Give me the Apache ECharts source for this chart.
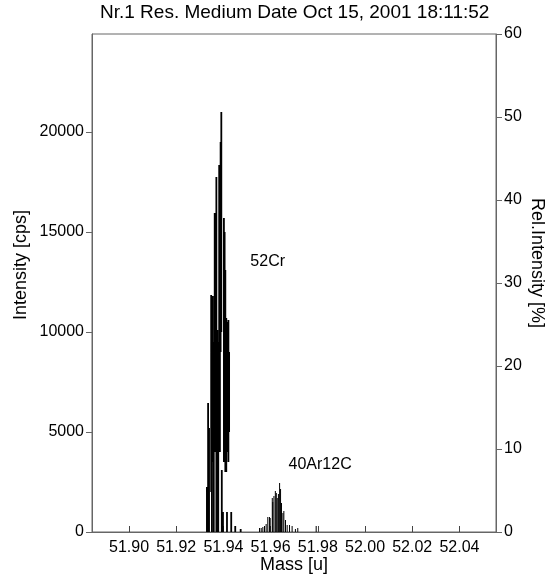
<!DOCTYPE html>
<html>
<head>
<meta charset="utf-8">
<script src="https://cdn.jsdelivr.net/npm/echarts@6/dist/echarts.min.js"></script>
<style>
  html, body { margin: 0; padding: 0; background: #fff; }
  #chart { width: 552px; height: 576px; }
</style>
</head>
<body>
<div id="chart"></div>
<script>
// 52Cr sticks: mass, top of stick, bottom of stick (cps)
var crMass = [51.9330, 51.9335, 51.9339, 51.9348, 51.9351, 51.9355, 51.9359, 51.9363, 51.9367, 51.9370,
  51.9374, 51.9378, 51.9382, 51.9385, 51.9388, 51.9391, 51.9393, 51.9398, 51.9402, 51.9405,
  51.9408, 51.9412, 51.9415, 51.9416, 51.9421, 51.9424, 51.9433, 51.9450, 51.9473]
var crTop = [2250, 6450, 5200, 11850, 11500, 11800, 9500, 15950, 15500, 17750,
  10100, 9500, 18350, 18000, 19500, 21000, 3100, 1000, 15700, 15000,
  13100, 10700, 1000, 10500, 10600, 9000, 1000, 300, 150]
var crBase = [0, 0, 0, 2000, 0, 3500, 0, 4000, 8000, 0,
  0, 0, 8000, 4000, 9000, 10000, 0, 0, 3500, 6000,
  3000, 3000, 0, 4000, 3500, 5000, 0, 0, 0]

// 40Ar12C sticks
var arMass = [51.9553, 51.9560, 51.9567, 51.9574, 51.9581, 51.9588, 51.9595, 51.9598, 51.9607, 51.9609,
  51.9614, 51.9620, 51.9624, 51.9628, 51.9633, 51.9638, 51.9642, 51.9646, 51.9652, 51.9656,
  51.9663, 51.9670, 51.9680, 51.9691, 51.9705, 51.9715, 51.9793]
var arTop = [200, 200, 250, 300, 400, 750, 750, 700, 1700, 1500,
  1800, 2050, 1950, 1700, 1900, 2450, 2150, 1450, 950, 1050,
  600, 350, 350, 300, 150, 200, 300]

var massTicks = [51.90, 51.92, 51.94, 51.96, 51.98, 52.00, 52.02, 52.04]
var intTicks = [0, 5000, 10000, 15000, 20000]

var font = 'Liberation Sans, Arial, sans-serif'

function sticks(mass, top, base) {
  var out = []
  for (var i = 0; i < mass.length; i++) {
    out.push([mass[i], base ? base[i] : 0])
    out.push([mass[i], top[i]])
    out.push([mass[i], '-'])
  }
  return out
}

var chart = echarts.init(document.getElementById('chart'))
var option = {
  animation: false,
  backgroundColor: '#fff',
  title: {
    text: 'Nr.1 Res. Medium Date Oct 15, 2001 18:11:52',
    left: 100,
    top: 3,
    padding: 0,
    textStyle: { fontFamily: font, fontSize: 19, fontWeight: 'normal', color: '#000' }
  },
  grid: {
    left: 92, right: 56, top: 34, bottom: 44,
    outerBoundsMode: 'none',
    show: true, borderColor: '#666', borderWidth: 1
  },
  xAxis: {
    type: 'value',
    min: 51.8843,
    max: 52.0555,
    name: 'Mass [u]',
    nameLocation: 'middle',
    nameGap: 24,
    nameMoveOverlap: false,
    nameTextStyle: { fontFamily: font, fontSize: 18, color: '#000' },
    axisLine: { lineStyle: { color: '#666' } },
    axisTick: { inside: true, length: 6, customValues: massTicks, lineStyle: { color: '#444' } },
    axisLabel: {
      customValues: massTicks,
      fontFamily: font, fontSize: 16, color: '#000', margin: 8,
      formatter: function (v) { return v.toFixed(2) }
    },
    splitLine: { show: false }
  },
  yAxis: [{
    type: 'value',
    min: 0,
    max: 24900,
    name: 'Intensity [cps]',
    nameLocation: 'middle',
    nameGap: 62,
    nameMoveOverlap: false,
    nameTextStyle: { fontFamily: font, fontSize: 18, color: '#000', padding: [0, 0, 0, 36] },
    axisLine: { show: true, lineStyle: { color: '#666' } },
    axisTick: { show: true, length: 6, customValues: intTicks, lineStyle: { color: '#666' } },
    axisLabel: {
      customValues: intTicks, fontFamily: font, fontSize: 16, color: '#000', margin: 8,
      formatter: function (v) { return String(v) }
    },
    splitLine: { show: false }
  }, {
    type: 'value',
    position: 'right',
    min: 0,
    max: 60,
    interval: 10,
    name: 'Rel.Intensity [%]',
    nameLocation: 'middle',
    nameRotate: -90,
    nameGap: 32,
    nameMoveOverlap: false,
    nameTextStyle: { fontFamily: font, fontSize: 18, color: '#000', padding: [0, 40, 0, 0] },
    axisLine: { show: true, lineStyle: { color: '#666' } },
    axisTick: { show: true, length: 6, lineStyle: { color: '#666' } },
    axisLabel: { fontFamily: font, fontSize: 16, color: '#000', margin: 8 },
    splitLine: { show: false }
  }],
  series: [{
    name: '52Cr',
    type: 'line',
    yAxisIndex: 0,
    showSymbol: false,
    connectNulls: false,
    lineStyle: { color: '#000', width: 1.8 },
    data: sticks(crMass, crTop, crBase)
  }, {
    name: '40Ar12C',
    type: 'line',
    yAxisIndex: 0,
    showSymbol: false,
    connectNulls: false,
    lineStyle: { color: '#000', width: 1 },
    data: sticks(arMass, arTop)
  }]
}
chart.setOption(option)

// peak labels placed at data coordinates
var crPos = chart.convertToPixel({ xAxisIndex: 0, yAxisIndex: 0 }, [51.9514, 13500])
var arPos = chart.convertToPixel({ xAxisIndex: 0, yAxisIndex: 0 }, [51.9676, 3350])
chart.setOption({
  graphic: [
    { type: 'text', x: crPos[0], y: crPos[1], style: { text: '52Cr', fontFamily: font, fontSize: 16, fill: '#000', verticalAlign: 'middle' } },
    { type: 'text', x: arPos[0], y: arPos[1], style: { text: '40Ar12C', fontFamily: font, fontSize: 16, fill: '#000', verticalAlign: 'middle' } }
  ]
})
</script>
</body>
</html>
